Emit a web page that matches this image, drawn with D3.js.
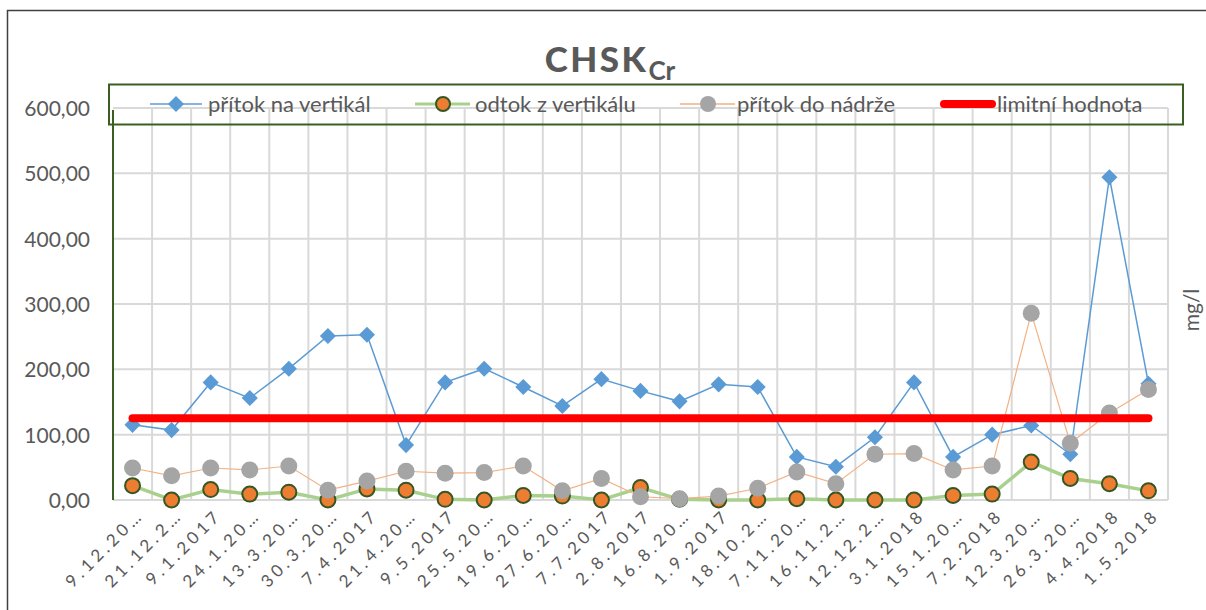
<!DOCTYPE html>
<html><head><meta charset="utf-8">
<script src="https://cdn.jsdelivr.net/npm/d3@7"></script>
<style>
html,body{margin:0;padding:0;background:#fff;}
svg{display:block;font-family:Lato,"Open Sans",sans-serif;}
</style></head>
<body>
<svg id="chart" width="1206" height="610"></svg>
<script>
const categories = ["9.12.20…","21.12.2…","9.1.2017","24.1.20…","13.3.20…","30.3.20…","7.4.2017","21.4.20…","9.5.2017","25.5.20…","19.6.20…","27.6.20…","7.7.2017","2.8.2017","16.8.20…","1.9.2017","18.10.2…","7.11.20…","16.11.2…","12.12.2…","3.1.2018","15.1.20…","7.2.2018","12.3.20…","26.3.20…","4.4.2018","1.5.2018"];
const pritokVertikal = [115,107,180,156,201,251,253,84,180,201,173,144,185,167,151,177,173,66,51,96,180,66,100,114,70,494,178];
const odtokVertikal = [22,0,16,9,12,0,17,15,1,0,7,6,0,19,1,0,0,2,0,0,0,7,9,58,33,25,14];
const pritokNadrz = [49,37,49,46,52,15,29,44,41,42,52,14,33,5,2,6,18,43,25,70,71,46,52,286,87,133,169];
const limitValue = 125;
const yTicks = [0,100,200,300,400,500,600];
const seriesNames = ["přítok na vertikál","odtok z vertikálu","přítok do nádrže","limitní hodnota"];

const svg = d3.select("#chart");
const L = 113, R = 1168, T = 108, B = 500;
const x = d3.scaleBand().domain(categories).range([L, R]);
const cx = c => x(c) + x.bandwidth()/2;
const y = d3.scaleLinear().domain([0,600]).range([B, T]);
const grey = "#595959";

// chart border
svg.append("path").attr("d","M7.5,610 L7.5,10.5 L1206,10.5").attr("fill","none").attr("stroke","#404040").attr("stroke-width",1.5);

// horizontal gridlines
svg.append("g").selectAll("line").data(yTicks).join("line")
  .attr("x1",L).attr("x2",R).attr("y1",d=>y(d)).attr("y2",d=>y(d))
  .attr("stroke","#d9d9d9").attr("stroke-width",2);
// vertical gridlines
svg.append("g").selectAll("line").data(categories).join("line")
  .attr("x1",d=>x(d)+x.bandwidth()).attr("x2",d=>x(d)+x.bandwidth())
  .attr("y1",T).attr("y2",B)
  .attr("stroke","#d9d9d9").attr("stroke-width",2);

// y axis labels
const yAxis = d3.axisLeft(y).tickValues(yTicks).tickSize(0).tickPadding(0)
  .tickFormat(d => d3.format(".2f")(d).replace(".",","));
const gy = svg.append("g").attr("transform",`translate(90,0)`).call(yAxis);
gy.select(".domain").remove();
gy.selectAll("text").attr("fill",grey).style("font-size","21px").style("font-family","Lato, sans-serif").attr("dy","0.35em");

// left axis line
svg.append("line").attr("x1",L).attr("x2",L).attr("y1",T+2).attr("y2",B)
  .attr("stroke","#3b5e22").attr("stroke-width",2);

// x axis labels
const xAxis = d3.axisBottom(x).tickSize(0).tickPadding(0);
const gx = svg.append("g").attr("transform",`translate(0,${B})`).call(xAxis);
gx.select(".domain").remove();
gx.selectAll("text")
  .attr("fill",grey).style("font-size","17px").style("font-family","Lato, sans-serif")
  .style("letter-spacing","4px")
  .attr("text-anchor","end")
  .attr("transform","translate(8,12) rotate(-45)")
  .attr("dy","0.35em").attr("y",0).attr("x",0);

// series: blue
const line = d3.line().x((d,i)=>cx(categories[i])).y(d=>y(d));
svg.append("path").datum(pritokVertikal).attr("d",line).attr("fill","none")
  .attr("stroke","#5b9bd5").attr("stroke-width",1.5);
const diamond = d3.symbol().type(d3.symbolDiamond2).size(165);
svg.append("g").selectAll("path").data(pritokVertikal).join("path")
  .attr("d",diamond).attr("transform",(d,i)=>`translate(${cx(categories[i])},${y(d)})`)
  .attr("fill","#5b9bd5");

// series: green/orange
svg.append("path").datum(odtokVertikal).attr("d",line).attr("fill","none")
  .attr("stroke","#a9d18e").attr("stroke-width",3.5);
svg.append("g").selectAll("circle").data(odtokVertikal).join("circle")
  .attr("cx",(d,i)=>cx(categories[i])).attr("cy",d=>y(d)).attr("r",7.5)
  .attr("fill","#ed7d31").attr("stroke","#375623").attr("stroke-width",2);

// series: gray
svg.append("path").datum(pritokNadrz).attr("d",line).attr("fill","none")
  .attr("stroke","#f4b183").attr("stroke-width",1.2);
svg.append("g").selectAll("circle").data(pritokNadrz).join("circle")
  .attr("cx",(d,i)=>cx(categories[i])).attr("cy",d=>y(d)).attr("r",8.5)
  .attr("fill","#a5a5a5");

// limit line
const limitData = categories.map(()=>limitValue);
svg.append("path").datum(limitData).attr("d",line).attr("fill","none")
  .attr("stroke","#ff0000").attr("stroke-width",8).attr("stroke-linecap","round");

// title
const title = svg.append("text").attr("x",610).attr("y",72).attr("text-anchor","middle")
  .attr("fill",grey).style("font-family","Lato, sans-serif").style("font-weight","900");
title.append("tspan").text("CHSK").style("font-size","35px").style("letter-spacing","2.5px");
title.append("tspan").text("Cr").attr("dy",8).style("font-size","26px").style("font-weight","bold");

// legend box
svg.append("rect").attr("x",109).attr("y",84.5).attr("width",1074).attr("height",40)
  .attr("fill","none").attr("stroke","#3b5e22").attr("stroke-width",2);
const ly = 104;
const leg = svg.append("g");
const legItems = [
  {lx:150, tx:208, name:seriesNames[0]},
  {lx:415, tx:475, name:seriesNames[1]},
  {lx:680, tx:737, name:seriesNames[2]},
  {lx:940, tx:997, name:seriesNames[3]}
];
// blue
leg.append("line").attr("x1",legItems[0].lx).attr("x2",legItems[0].lx+52).attr("y1",ly).attr("y2",ly).attr("stroke","#5b9bd5").attr("stroke-width",1.5);
leg.append("path").attr("d",diamond).attr("transform",`translate(${legItems[0].lx+26},${ly})`).attr("fill","#5b9bd5");
// green
leg.append("line").attr("x1",legItems[1].lx).attr("x2",legItems[1].lx+55).attr("y1",ly).attr("y2",ly).attr("stroke","#a9d18e").attr("stroke-width",3);
leg.append("circle").attr("cx",legItems[1].lx+28).attr("cy",ly).attr("r",7).attr("fill","#ed7d31").attr("stroke","#375623").attr("stroke-width",2);
// gray
leg.append("line").attr("x1",legItems[2].lx).attr("x2",legItems[2].lx+55).attr("y1",ly).attr("y2",ly).attr("stroke","#f4b183").attr("stroke-width",1.5);
leg.append("circle").attr("cx",legItems[2].lx+28).attr("cy",ly).attr("r",8).attr("fill","#a5a5a5");
// red
leg.append("line").attr("x1",legItems[3].lx+4).attr("x2",legItems[3].lx+52).attr("y1",ly).attr("y2",ly).attr("stroke","#ff0000").attr("stroke-width",8).attr("stroke-linecap","round");
leg.selectAll("text.l").data(legItems).join("text").attr("class","l")
  .attr("x",d=>d.tx).attr("y",ly).attr("dy","0.35em").text(d=>d.name)
  .attr("fill",grey).style("font-size","22px").style("font-family","Lato, sans-serif");

// right axis title
svg.append("text").attr("transform","translate(1199,310) rotate(-90)").attr("text-anchor","middle")
  .text("mg/l").attr("fill",grey).style("font-size","21px").style("font-family","Lato, sans-serif");
</script>
</body></html>
